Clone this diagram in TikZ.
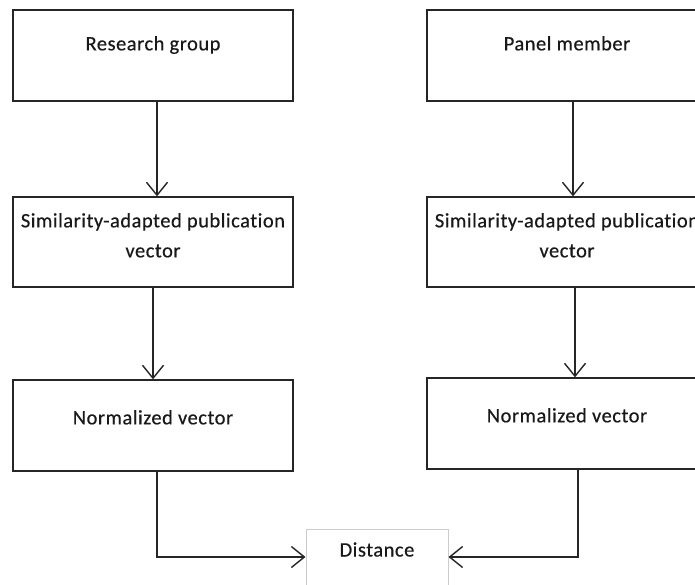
\documentclass[tikz,border=0pt]{standalone}
\usepackage{fontspec}
\setmainfont{Carlito}[Ligatures=NoCommon, LetterSpace=2.5, FakeBold=0.4]
\usepackage{tikz}
\usetikzlibrary{arrows.meta, positioning}

\begin{document}
\begin{tikzpicture}[x=1pt, y=-1pt,
    box/.style = {draw=black!85, line width=1.3pt, minimum width=280pt, inner sep=0pt},
    lbl/.style = {text=black!90, font=\fontsize{20.5}{30}\selectfont, align=center, inner sep=0pt},
    arr/.style = {draw=black!85, line width=1.4pt, -{Straight Barb[length=13pt, width=21pt, line width=1.4pt]}}]
      \clip (0, 0) rectangle (695, 584);
      \fill[white] (0, 0) rectangle (695, 584);
      % left column
      \node[box, minimum height=91pt] (rg) at (153, 55.5) {};
      \node[box, minimum height=90pt] (sal) at (153, 242) {};
      \node[box, minimum height=91pt] (nvl) at (153, 425.5) {};
      % right column
      \node[box, minimum height=91pt] (pm) at (567, 55.5) {};
      \node[box, minimum height=90pt] (sar) at (567, 242) {};
      \node[box, minimum height=91pt] (nvr) at (567, 423.5) {};
      % bottom
      \node[draw=black!20, line width=1pt, minimum width=142pt, minimum height=56pt, inner sep=0pt] (dist) at (377, 557) {};
      \node[lbl, anchor=base] (rgt) at ([yshift=-41]rg.north) {Research group};
      \node[lbl, anchor=base] (pmt) at ([yshift=-41]pm.north) {Panel member};
      \node[lbl, anchor=base] (salt) at ([yshift=-61]sal.north) {Similarity-adapted publication\\vector};
      \node[lbl, anchor=base] (sart) at ([yshift=-61]sar.north) {Similarity-adapted publication\\vector};
      \node[lbl, anchor=base] (nvlt) at ([yshift=-45]nvl.north) {Normalized vector};
      \node[lbl, anchor=base] (nvrt) at ([yshift=-45]nvr.north) {Normalized vector};
      \node[lbl, anchor=base] (distt) at ([yshift=-28]dist.north) {Distance};
      % connectors
      \draw[arr] ([xshift=4]rg.south) -- ([xshift=4]sal.north);
      \draw[arr] ([xshift=0]sal.south) -- ([xshift=0]nvl.north);
      \draw[arr] ([xshift=6]pm.south) -- ([xshift=6]sar.north);
      \draw[arr] ([xshift=8]sar.south) -- ([xshift=8]nvr.north);
      \draw[arr] ([xshift=4]nvl.south) |- (dist.west);
      \draw[arr] ([xshift=11]nvr.south) |- (dist.east);
    \end{tikzpicture}
\end{document}
